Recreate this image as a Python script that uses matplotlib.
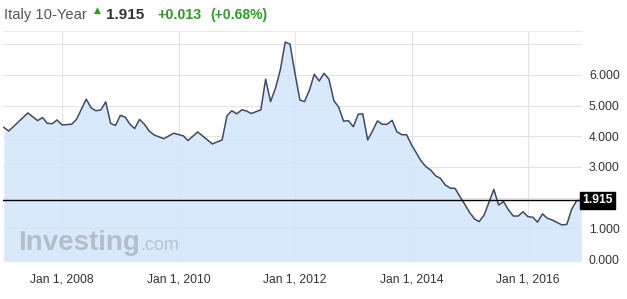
import matplotlib
matplotlib.use("Agg")
import matplotlib.pyplot as plt
import matplotlib.dates as mdates
import matplotlib.transforms as mtransforms
import pandas as pd

plt.rcParams['font.family'] = ['Liberation Sans', 'DejaVu Sans']

# monthly closes, first of month
dates = ["2007-01", "2007-02", "2007-06", "2007-08", "2007-09", "2007-10", "2007-11", "2007-12",
         "2008-01", "2008-03", "2008-04", "2008-06", "2008-07", "2008-08", "2008-09", "2008-10",
         "2008-11", "2008-12", "2009-01", "2009-02", "2009-03", "2009-04", "2009-05", "2009-06",
         "2009-07", "2009-08", "2009-10", "2009-12", "2010-02", "2010-03", "2010-05", "2010-06",
         "2010-08", "2010-10", "2010-11", "2010-12", "2011-01", "2011-02", "2011-03", "2011-04",
         "2011-06", "2011-07", "2011-08", "2011-09", "2011-10", "2011-11", "2011-12", "2012-01",
         "2012-02", "2012-03", "2012-04", "2012-05", "2012-06", "2012-07", "2012-08", "2012-09",
         "2012-10", "2012-11", "2012-12", "2013-01", "2013-02", "2013-03", "2013-04", "2013-05",
         "2013-06", "2013-07", "2013-08", "2013-09", "2013-10", "2013-11", "2013-12", "2014-01",
         "2014-02", "2014-03", "2014-04", "2014-05", "2014-06", "2014-07", "2014-08", "2014-09",
         "2014-10", "2014-11", "2014-12", "2015-01", "2015-02", "2015-03", "2015-04", "2015-05",
         "2015-06", "2015-07", "2015-08", "2015-09", "2015-10", "2015-11", "2015-12", "2016-01",
         "2016-02", "2016-03", "2016-04", "2016-05", "2016-06", "2016-08", "2016-09", "2016-10",
         "2016-11", "2016-12"]
yields = [4.29, 4.17, 4.76, 4.51, 4.61, 4.42, 4.41, 4.53,
          4.37, 4.39, 4.55, 5.21, 4.93, 4.83, 4.86, 5.12,
          4.42, 4.35, 4.68, 4.62, 4.40, 4.25, 4.55, 4.39,
          4.17, 4.04, 3.92, 4.10, 4.01, 3.86, 4.14, 4.01,
          3.75, 3.88, 4.67, 4.83, 4.73, 4.86, 4.83, 4.74,
          4.86, 5.86, 5.13, 5.57, 6.16, 7.07, 7.00, 6.05,
          5.18, 5.13, 5.51, 6.02, 5.80, 6.05, 5.86, 5.16,
          4.95, 4.49, 4.51, 4.31, 4.72, 4.73, 3.88, 4.17,
          4.50, 4.39, 4.39, 4.52, 4.15, 4.05, 4.05, 3.72,
          3.45, 3.20, 3.01, 2.90, 2.71, 2.63, 2.41, 2.31,
          2.30, 2.03, 1.78, 1.51, 1.30, 1.22, 1.43, 1.84,
          2.27, 1.76, 1.87, 1.60, 1.40, 1.40, 1.54, 1.38,
          1.36, 1.20, 1.47, 1.33, 1.27, 1.11, 1.13, 1.62,
          1.90, 1.915]
last = 1.915
ytick_vals = [0, 1, 2, 3, 4, 5, 6, 7]
ytick_labels = ["0.000", "1.000", "", "3.000", "4.000", "5.000", "6.000", ""]
xtick_years = ["2008-01-01", "2010-01-01", "2012-01-01", "2014-01-01", "2016-01-01"]
xtick_labels = ["Jan 1, 2008", "Jan 1, 2010", "Jan 1, 2012", "Jan 1, 2014", "Jan 1, 2016"]

x = pd.to_datetime(dates)

W, H = 627, 299
fig = plt.figure(figsize=(W / 100, H / 100), dpi=100)
ax = fig.add_axes([3 / W, 1 - 261 / H, (582 - 3) / W, (261 - 31) / H])

ax.fill_between(x, yields, -1, color="#d3e6fc", alpha=0.85, zorder=2, linewidth=0)
ax.plot(x, yields, color="#3d4a60", lw=1.1, zorder=3)
ax.axhline(last, color="black", lw=1, zorder=4)

ax.set_xlim(pd.Timestamp("2006-12-27"), pd.Timestamp("2016-12-05"))
ax.set_ylim(-0.065, 7.43)

ax.set_xticks(pd.to_datetime(xtick_years))
ax.set_xticklabels(xtick_labels)
ax.set_yticks(ytick_vals)
ax.set_yticklabels(ytick_labels)
ax.yaxis.tick_right()
ax.tick_params(axis="x", length=0, pad=9, labelsize=8.7, labelcolor="#333333")
ax.tick_params(axis="y", length=0, pad=5, labelsize=8.7, labelcolor="#333333")
for lab in ax.get_yticklabels():
    lab.set_horizontalalignment("left")

ax.grid(True, color="#e4e4e4", lw=0.8, zorder=1)
ax.set_axisbelow(True)
for s in ["left", "right", "bottom"]:
    ax.spines[s].set_visible(False)
ax.spines["top"].set_color("#e8e8e8")

# last value tag
trans = mtransforms.blended_transform_factory(ax.transAxes, ax.transData)
ax.text(1.0, last, "1.915", transform=trans, ha="left", va="center", color="white",
        fontsize=8.7, fontweight="bold", zorder=5, clip_on=False,
        bbox=dict(boxstyle="square,pad=0.2", fc="black", ec="black"))

# watermark
fig.text(18 / W, 1 - 250 / H, "Investing", fontsize=20, fontweight="bold",
         color="#b4becb", ha="left", va="baseline")
fig.text(140 / W, 1 - 250 / H, ".com", fontsize=13, color="#bac3ce",
         ha="left", va="baseline")

# header
fig.text(4 / W, 1 - 19 / H, "Italy 10-Year", fontsize=10.6, color="#555555", va="baseline")
fig.text(93.5 / W, 1 - 12.5 / H, "\u25b2", fontsize=6.5, color="#2d9b27", va="baseline",
         family="DejaVu Sans")
fig.text(106 / W, 1 - 19 / H, "1.915", fontsize=11, fontweight="bold", color="#333333",
         va="baseline")
fig.text(157 / W, 1 - 19 / H, "+0.013", fontsize=10.3, fontweight="bold", color="#2d9b27",
         va="baseline")
fig.text(210 / W, 1 - 19 / H, "(+0.68%)", fontsize=10, fontweight="bold", color="#2d9b27",
         va="baseline")

fig.savefig("out.png", dpi=100)
